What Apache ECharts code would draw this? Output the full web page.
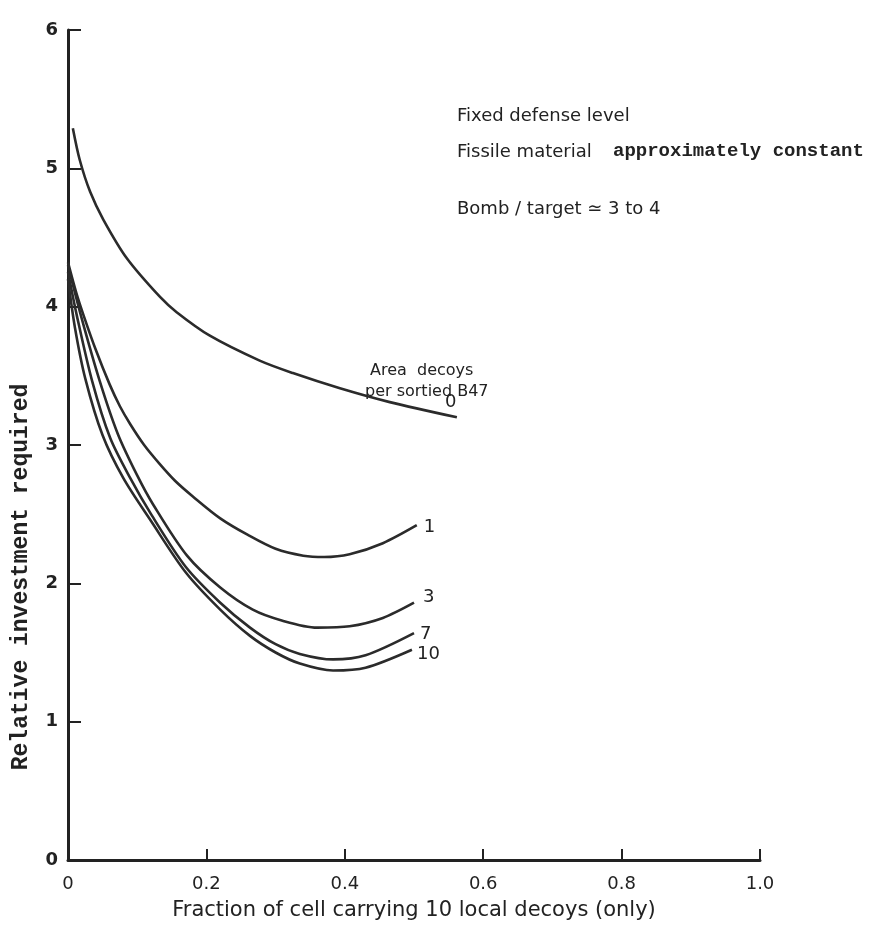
<!DOCTYPE html>
<html>
<head>
<meta charset="utf-8">
<script src="https://cdn.jsdelivr.net/npm/echarts@6/dist/echarts.min.js"></script>
<style>
  html, body { margin: 0; background: #fff; }
  #chart { width: 871px; height: 926px; }
</style>
</head>
<body>
<div id="chart"></div>
<script>
// area decoys per sortied B47 -> curve points [fraction, relative investment]
var decoys0 = [[0.007, 5.29], [0.017, 5.06], [0.032, 4.83], [0.051, 4.63], [0.085, 4.35],
  [0.133, 4.07], [0.157, 3.96], [0.205, 3.79], [0.277, 3.61], [0.325, 3.52], [0.393, 3.41],
  [0.465, 3.31], [0.562, 3.2]]
var decoys1 = [[0, 4.32], [0.012, 4.1], [0.023, 3.93], [0.04, 3.69], [0.06, 3.44], [0.075, 3.28],
  [0.09, 3.15], [0.11, 3.0], [0.133, 2.86], [0.155, 2.74], [0.18, 2.63], [0.22, 2.47],
  [0.26, 2.35], [0.3, 2.25], [0.34, 2.2], [0.37, 2.19], [0.407, 2.21], [0.455, 2.29],
  [0.504, 2.42]]
var decoys3 = [[0, 4.3], [0.019, 3.93], [0.046, 3.46], [0.072, 3.08], [0.1, 2.78], [0.123, 2.57],
  [0.172, 2.2], [0.22, 1.97], [0.267, 1.81], [0.31, 1.73], [0.36, 1.68], [0.407, 1.69],
  [0.455, 1.75], [0.5, 1.86]]
var decoys7 = [[0, 4.25], [0.013, 3.93], [0.035, 3.46], [0.061, 3.05], [0.09, 2.76], [0.12, 2.5],
  [0.17, 2.12], [0.22, 1.86], [0.263, 1.68], [0.3, 1.56], [0.335, 1.49], [0.383, 1.45],
  [0.43, 1.48], [0.5, 1.64]]
var decoys10 = [[0, 4.2], [0.01, 3.85], [0.025, 3.48], [0.05, 3.07], [0.08, 2.76], [0.12, 2.45],
  [0.17, 2.08], [0.22, 1.81], [0.263, 1.62], [0.3, 1.5], [0.335, 1.42], [0.383, 1.37],
  [0.43, 1.39], [0.497, 1.52]]

var curveNames = ['0', '1', '3', '7', '10']
var curveData = [decoys0, decoys1, decoys3, decoys7, decoys10]
var labelOffsets = [[-20, -15], [-1, 2], [1, -5], [-2, 1], [-3, 5]]

var notes = ['Fixed defense level', 'Fissile material', 'approximately constant', 'Bomb / target \u2243 3 to 4']

var chart = echarts.init(document.getElementById('chart'))

var series = curveNames.map(function (name, i) {
  return {
    name: name,
    type: 'line',
    smooth: 0.3,
    symbol: 'none',
    data: curveData[i],
    lineStyle: { color: '#2b2b2b', width: 2.6 },
    endLabel: {
      show: true,
      formatter: '{a}',
      offset: labelOffsets[i],
      color: '#222',
      fontSize: 18,
      fontFamily: 'DejaVu Sans'
    }
  }
})

chart.setOption({
  backgroundColor: '#fff',
  animation: false,
  grid: {
    left: 68,
    right: 111,
    top: 30,
    bottom: 63
  },
  xAxis: {
    type: 'value',
    min: 0,
    max: 1,
    interval: 0.2,
    name: 'Fraction of cell carrying 10 local decoys (only)',
    nameLocation: 'middle',
    nameGap: 40,
    nameTextStyle: {
      color: '#222',
      fontSize: 21,
      fontFamily: 'DejaVu Sans'
    },
    axisLine: { lineStyle: { color: '#222', width: 3 } },
    axisTick: { inside: true, length: 11, lineStyle: { color: '#222', width: 2 } },
    axisLabel: {
      color: '#222',
      fontSize: 18,
      fontFamily: 'DejaVu Sans',
      margin: 15,
      formatter: function (v) { return v === 0 ? '0' : v.toFixed(1) }
    },
    splitLine: { show: false }
  },
  yAxis: {
    type: 'value',
    min: 0,
    max: 6,
    interval: 1,
    axisLine: { show: true, lineStyle: { color: '#222', width: 3 } },
    axisTick: { show: true, inside: true, length: 13, lineStyle: { color: '#222', width: 2 } },
    axisLabel: {
      color: '#222',
      fontSize: 18,
      fontWeight: 'bold',
      fontFamily: 'DejaVu Sans',
      margin: 10
    },
    splitLine: { show: false }
  },
  graphic: [
    {
      type: 'text',
      x: 21,
      y: 577,
      rotation: Math.PI / 2,
      style: {
        text: 'Relative investment required',
        fill: '#222',
        font: 'bold 23px "Liberation Mono"',
        align: 'center',
        verticalAlign: 'middle'
      }
    },
    {
      type: 'text', x: 457, y: 107,
      style: { text: notes[0], fill: '#222', font: '18px "DejaVu Sans"' }
    },
    {
      type: 'text', x: 457, y: 143,
      style: { text: notes[1], fill: '#222', font: '18px "DejaVu Sans"' }
    },
    {
      type: 'text', x: 613, y: 142,
      style: { text: notes[2], fill: '#222', font: 'bold 19px "Liberation Mono"' }
    },
    {
      type: 'text', x: 457, y: 200,
      style: { text: notes[3], fill: '#222', font: '18px "DejaVu Sans"' }
    },
    {
      type: 'text', x: 370, y: 363,
      style: { text: 'Area  decoys', fill: '#222', font: '16px "DejaVu Sans"' }
    },
    {
      type: 'text', x: 365, y: 384,
      style: { text: 'per sortied B47', fill: '#222', font: '16px "DejaVu Sans"' }
    }
  ],
  series: series
})
</script>
</body>
</html>
